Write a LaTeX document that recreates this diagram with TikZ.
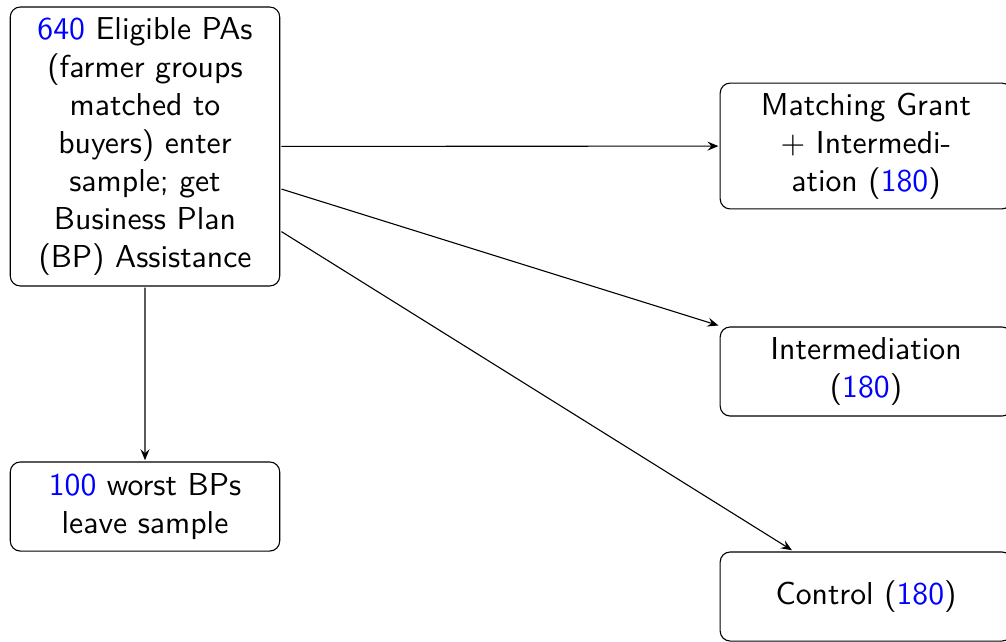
\documentclass[tikz,border=0pt]{standalone}
\usetikzlibrary{arrows.meta}
\begin{document}
\begin{tikzpicture}[x=1pt,y=-1pt,
  box/.style={draw, scale=3.17, rounded corners=10pt, line width=1.1pt, align=center,
    font=\sffamily\fontsize{10}{12}\selectfont, inner xsep=2pt, inner ysep=2pt},
  arr/.style={-{Stealth[length=11pt,width=9pt,inset=4pt]}, line width=1.1pt}]
\useasboundingbox (0,0) rectangle (1006,641);
\node[box, text width=81pt, minimum height=88pt] (pa) at (145,146.5)
  {\textcolor{blue}{640} Eligible PAs\\(farmer groups\\matched to\\buyers) enter\\sample; get\\Business Plan\\(BP) Assistance};
\node[box, text width=81pt, minimum height=28.1pt] (worst) at (145,506.5)
  {\textcolor{blue}{100} worst BPs\\leave sample};
\node[box, text width=88pt, minimum height=39.7pt] (mg) at (866,146)
  {Matching Grant\\+ Intermedi-\\ation (\textcolor{blue}{180})};
\node[box, text width=88pt, minimum height=28.1pt] (im) at (866,371.5)
  {Intermediation\\(\textcolor{blue}{180})};
\node[box, text width=88pt, minimum height=28.1pt] (ct) at (866,596.5)
  {Control (\textcolor{blue}{180})};
\draw[arr] (pa) -- (mg);
\draw[arr] (pa) -- (im);
\draw[arr] (pa) -- (ct);
\draw[arr] (pa) -- (worst);
\end{tikzpicture}
\end{document}
